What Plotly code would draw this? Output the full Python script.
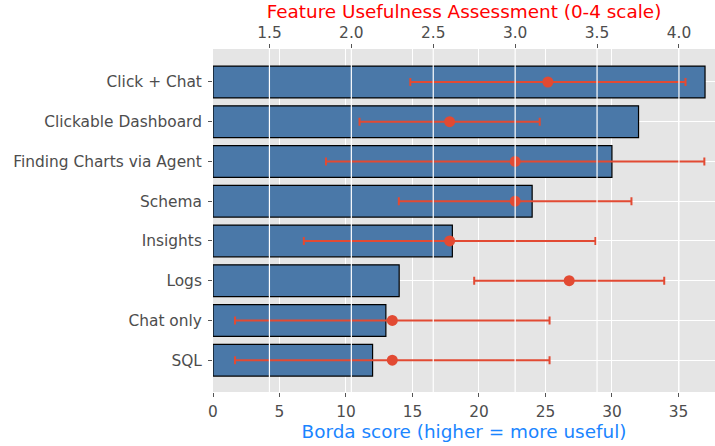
import plotly.graph_objects as go

features = ["Click + Chat", "Clickable Dashboard", "Finding Charts via Agent", "Schema",
            "Insights", "Logs", "Chat only", "SQL"]
borda_scores = [37, 32, 30, 24, 18, 14, 13, 12]
usefulness_mean = [3.2, 2.6, 3.0, 3.0, 2.6, 3.33, 2.25, 2.25]
usefulness_err = [0.84, 0.55, 1.155, 0.71, 0.89, 0.58, 0.96, 0.96]
borda_ticks = [0, 5, 10, 15, 20, 25, 30, 35]
usefulness_ticks = [1.5, 2.0, 2.5, 3.0, 3.5, 4.0]

BAR = "#4A78A8"
RED = "#E24A33"
FONT = "DejaVu Sans"
TICKC = "#4d4d4d"
TICKSIZE = 15.4
TITLESIZE = 18.4

fig = go.Figure()
fig.add_trace(go.Bar(
    x=borda_scores, y=features, orientation="h", width=0.8,
    marker=dict(color=BAR, line=dict(color="black", width=1.2)),
    xaxis="x", yaxis="y", showlegend=False,
))
fig.add_trace(go.Scatter(
    x=usefulness_mean, y=features, mode="markers",
    marker=dict(color=RED, size=11),
    error_x=dict(type="data", array=usefulness_err, color=RED, thickness=2, width=4),
    xaxis="x2", yaxis="y", showlegend=False,
))

# twin-axis grid lines drawn above the marks (as in the reference)
for t in usefulness_ticks:
    fig.add_shape(type="line", xref="x2", yref="paper", x0=t, x1=t, y0=0, y1=1,
                  line=dict(color="white", width=1.2), layer="above")

fig.update_layout(
    width=715, height=446,
    margin=dict(l=213, r=0, t=49, b=54),
    paper_bgcolor="white", plot_bgcolor="#E5E5E5",
    font=dict(family=FONT, size=TICKSIZE, color=TICKC),
    xaxis=dict(
        range=[0, 37.75], tickvals=borda_ticks, showgrid=True, gridcolor="white", gridwidth=1.2,
        zeroline=False, ticks="outside", ticklen=4, tickcolor="#555", showline=False,
        tickfont=dict(size=TICKSIZE, color=TICKC), ticklabelstandoff=2,
        title=dict(text="Borda score (higher = more useful)", font=dict(size=TITLESIZE, color="#1a85ff"),
                   standoff=4),
    ),
    xaxis2=dict(
        overlaying="x", side="top", range=[1.1555, 4.22], tickvals=usefulness_ticks,
        tickformat=".1f", showgrid=False, zeroline=False, ticks="outside", ticklen=4,
        tickcolor="#555", tickfont=dict(size=TICKSIZE, color=TICKC), ticklabelstandoff=0,
        title=dict(text="Feature Usefulness Assessment (0-4 scale)", font=dict(size=TITLESIZE, color="#FF0000"),
                   standoff=0),
    ),
    yaxis=dict(
        type="category", categoryorder="array", categoryarray=features,
        range=[7.8, -0.83], showgrid=True, gridcolor="white", gridwidth=1.2,
        zeroline=False, ticks="outside", ticklen=4, tickcolor="#555",
        tickfont=dict(size=TICKSIZE, color=TICKC), ticklabelstandoff=3,
    ),
    bargap=0.2,
)

fig.write_html("out.html", config={"displayModeBar": False},
               post_script="document.body.style.margin='0';document.body.style.overflow='hidden';")
